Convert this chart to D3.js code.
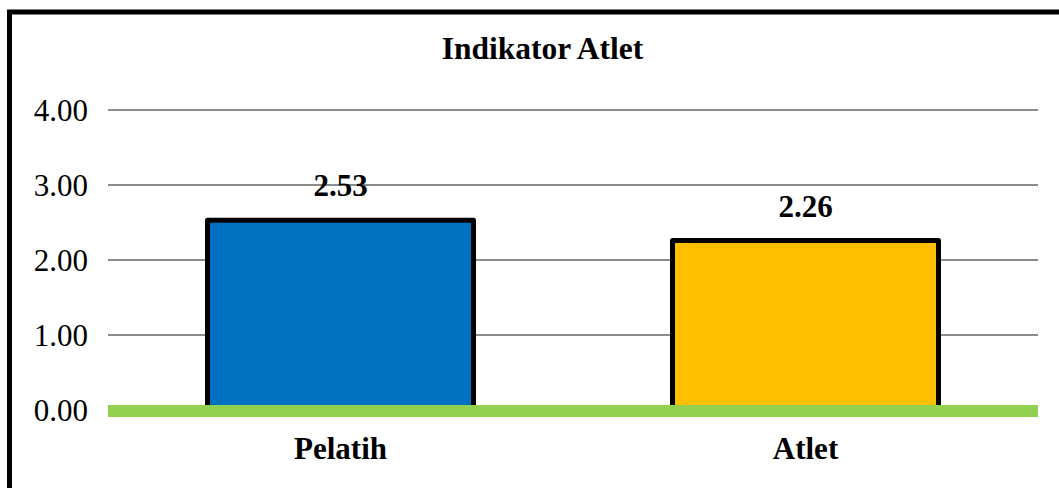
<!DOCTYPE html>
<html>
<head>
<meta charset="utf-8">
<script src="https://cdn.jsdelivr.net/npm/d3@7"></script>
<style>
  html, body { margin: 0; padding: 0; background: #fff; }
  svg { display: block; }
  text { font-family: "Liberation Serif", "Times New Roman", serif; fill: #000; }
</style>
</head>
<body>
<svg id="chart" width="1059" height="488"></svg>
<script>
const title = "Indikator Atlet";
const categories = ["Pelatih", "Atlet"];
const values = [2.53, 2.26];
const barColors = ["#0070C0", "#FFC000"];
const yTicks = [0, 1, 2, 3, 4];

const svg = d3.select("#chart");

// outer chart border
svg.append("rect")
  .attr("x", 9.5).attr("y", 12).attr("width", 1080).attr("height", 520)
  .attr("fill", "#fff").attr("stroke", "#000").attr("stroke-width", 5);

const plot = { left: 108, right: 1038, top: 110, bottom: 410 };

const x = d3.scaleBand().domain(categories).range([plot.left, plot.right]).paddingInner(0.428).paddingOuter(0.214);
const y = d3.scaleLinear().domain([0, 4]).range([plot.bottom, plot.top]);

// gridlines
svg.append("g").selectAll("line").data(yTicks.filter(d => d > 0)).join("line")
  .attr("x1", plot.left).attr("x2", plot.right)
  .attr("y1", d => y(d)).attr("y2", d => y(d))
  .attr("stroke", "#8c8c8c").attr("stroke-width", 2);

// y axis labels
const yAxis = d3.axisLeft(y).tickValues(yTicks).tickFormat(d3.format(".2f")).tickSize(0).tickPadding(0);
const yg = svg.append("g").attr("transform", `translate(${plot.left - 20},0)`).call(yAxis);
yg.select(".domain").remove();
yg.selectAll("text").attr("font-size", 31).attr("font-family", "Liberation Serif, Times New Roman, serif").attr("fill", "#000").attr("dy", "0.34em");

// bars
svg.append("g").selectAll("rect").data(values).join("rect")
  .attr("x", (d, i) => x(categories[i]))
  .attr("width", x.bandwidth())
  .attr("y", d => y(d))
  .attr("height", d => y(0) - y(d))
  .attr("fill", (d, i) => barColors[i])
  .attr("stroke", "#000").attr("stroke-width", 5)
  .attr("stroke-linejoin", "round");

// baseline (green)
svg.append("line")
  .attr("x1", plot.left).attr("x2", plot.right)
  .attr("y1", y(0) + 1).attr("y2", y(0) + 1)
  .attr("stroke", "#92D050").attr("stroke-width", 12);

// value labels
svg.append("g").selectAll("text").data(values).join("text")
  .attr("x", (d, i) => x(categories[i]) + x.bandwidth() / 2)
  .attr("y", d => y(d) - 24)
  .attr("text-anchor", "middle")
  .attr("font-size", 31).attr("font-weight", "bold")
  .text(d => d3.format(".2f")(d));

// x labels
const xAxis = d3.axisBottom(x).tickSize(0).tickPadding(0);
const xg = svg.append("g").attr("transform", `translate(0,${plot.bottom + 49})`).call(xAxis);
xg.select(".domain").remove();
xg.selectAll("text").attr("font-size", 31).attr("font-weight", "bold")
  .attr("font-family", "Liberation Serif, Times New Roman, serif").attr("fill", "#000").attr("dy", 0);

// title
svg.append("text")
  .attr("x", 542.5).attr("y", 59)
  .attr("text-anchor", "middle")
  .attr("font-size", 31.5).attr("font-weight", "bold")
  .text(title);
</script>
</body>
</html>
